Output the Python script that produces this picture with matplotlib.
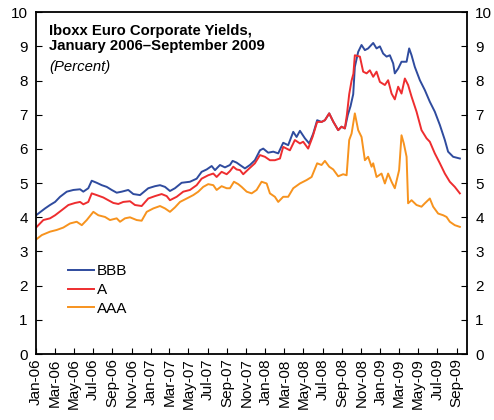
import numpy as np
import pandas as pd
import matplotlib
matplotlib.use('Agg')
import matplotlib.pyplot as plt
import matplotlib.dates as mdates

plt.rcParams['font.family'] = ['Liberation Sans', 'DejaVu Sans']

# months since Jan 2006 and yields (percent)
bbb_m = [0.0, 0.94, 1.46, 1.99, 2.51, 3.21, 3.9, 4.6, 4.94, 5.46, 5.82, 6.34, 6.87, 7.39,
         7.91, 8.43, 8.96, 9.64, 10.17, 10.87, 11.73, 12.43, 12.96, 13.48, 14.0, 14.52,
         15.22, 16.09, 16.79, 17.31, 17.84, 18.36, 18.71, 19.23, 19.75, 20.27, 20.55,
         20.97, 21.32, 21.84, 22.36, 22.88, 23.41, 23.75, 24.27, 24.8, 25.32, 25.84,
         26.36, 26.89, 27.24, 27.59, 28.11, 28.56, 28.98, 29.39, 29.85, 30.2, 30.65,
         31.07, 31.59, 31.94, 32.29, 32.6, 32.88, 33.16, 33.33, 33.68, 34.03, 34.38,
         34.72, 35.25, 35.6, 35.95, 36.29, 36.65, 36.99, 37.34, 37.51, 37.86, 38.21,
         38.74, 39.01, 39.26, 39.6, 40.13, 40.65, 41.17, 41.69, 42.22, 42.74, 43.08,
         43.61, 44.31]
bbb_v = [4.06, 4.26, 4.36, 4.45, 4.6, 4.75, 4.8, 4.82, 4.75, 4.85, 5.07, 5.01, 4.94, 4.89,
         4.8, 4.72, 4.75, 4.8, 4.68, 4.65, 4.85, 4.91, 4.94, 4.89, 4.77, 4.85,
         5.01, 5.04, 5.13, 5.33, 5.4, 5.5, 5.38, 5.53, 5.46, 5.53, 5.65,
         5.6, 5.53, 5.43, 5.53, 5.67, 5.96, 6.01, 5.89, 5.92, 5.87, 6.18,
         6.11, 6.5, 6.35, 6.53, 6.31, 6.16, 6.45, 6.84, 6.79, 6.84, 7.04,
         6.8, 6.55, 6.65, 6.6, 7.0, 7.25, 7.6, 8.4, 8.84, 9.04, 8.89,
         8.94, 9.1, 8.94, 9.0, 8.79, 8.7, 8.74, 8.5, 8.21, 8.35, 8.55,
         8.55, 8.94, 8.74, 8.4, 8.01, 7.72, 7.38, 7.09, 6.7, 6.26, 5.92,
         5.77, 5.72]

a_m = [0.0, 0.76, 1.46, 1.99, 2.69, 3.38, 4.08, 4.6, 4.94, 5.46, 5.82, 6.34, 7.03, 7.55,
       8.08, 8.6, 9.12, 9.82, 10.34, 11.04, 11.73, 12.43, 13.13, 13.66, 14.0, 14.7,
       15.39, 16.09, 16.79, 17.31, 18.0, 18.53, 18.88, 19.4, 19.93, 20.27, 20.62,
       20.97, 21.32, 21.66, 22.18, 22.88, 23.41, 23.93, 24.45, 24.97, 25.5, 25.84,
       26.54, 27.06, 27.59, 27.93, 28.45, 28.91, 29.39, 29.85, 30.2, 30.65, 31.07,
       31.59, 31.94, 32.29, 32.5, 32.74, 32.99, 33.18, 33.33, 33.86, 34.2, 34.56,
       34.9, 35.25, 35.6, 35.95, 36.47, 36.81, 37.17, 37.51, 37.86, 38.21, 38.56,
       38.9, 39.26, 39.78, 40.3, 40.83, 41.17, 41.69, 42.22, 42.74, 43.26, 43.78,
       44.31]
a_v = [3.7, 3.92, 3.97, 4.06, 4.21, 4.36, 4.42, 4.45, 4.38, 4.45, 4.7, 4.65, 4.58, 4.5,
       4.42, 4.39, 4.45, 4.47, 4.36, 4.33, 4.55, 4.62, 4.68, 4.62, 4.5, 4.6,
       4.75, 4.8, 4.94, 5.13, 5.23, 5.28, 5.18, 5.33, 5.26, 5.35, 5.48,
       5.4, 5.38, 5.26, 5.4, 5.58, 5.82, 5.77, 5.67, 5.67, 5.72, 6.06,
       5.96, 6.26, 6.16, 6.21, 6.01, 6.35, 6.79, 6.79, 6.84, 7.04, 6.8,
       6.55, 6.65, 6.6, 7.0, 7.6, 8.0, 8.2, 8.74, 8.7, 8.26, 8.21,
       8.3, 8.11, 8.26, 7.96, 7.87, 8.01, 7.62, 7.45, 7.82, 7.62, 8.06,
       7.87, 7.53, 7.09, 6.55, 6.31, 6.21, 5.87, 5.58, 5.28, 5.04, 4.89,
       4.7]

aaa_m = [0.0, 0.6, 1.46, 2.16, 2.85, 3.55, 4.25, 4.78, 5.3, 5.99, 6.51, 7.21, 7.73, 8.43,
         8.78, 9.3, 9.82, 10.52, 11.04, 11.57, 12.26, 12.96, 13.48, 14.0, 14.52, 15.05,
         15.75, 16.44, 16.96, 17.48, 18.0, 18.53, 18.88, 19.4, 19.93, 20.27, 20.69,
         21.14, 21.49, 22.02, 22.54, 23.06, 23.58, 24.11, 24.45, 24.97, 25.32, 25.84,
         26.36, 26.89, 27.59, 28.29, 28.81, 29.39, 29.85, 30.2, 30.65, 31.07, 31.59,
         32.11, 32.47, 32.74, 32.99, 33.33, 33.68, 34.03, 34.38, 34.72, 35.08, 35.25,
         35.6, 36.12, 36.47, 36.81, 37.17, 37.51, 37.96, 38.21, 38.45, 38.74, 38.9,
         39.26, 39.78, 40.3, 40.65, 41.17, 41.52, 42.04, 42.57, 42.92, 43.26, 43.78,
         44.31]
aaa_v = [3.35, 3.48, 3.58, 3.63, 3.7, 3.82, 3.87, 3.77, 3.92, 4.16, 4.06, 4.01, 3.92, 3.97,
         3.87, 3.97, 4.0, 3.92, 3.9, 4.16, 4.26, 4.33, 4.26, 4.16, 4.29, 4.45,
         4.55, 4.65, 4.75, 4.89, 4.97, 4.94, 4.8, 4.91, 4.85, 4.85, 5.04,
         4.97, 4.89, 4.75, 4.7, 4.8, 5.04, 4.99, 4.7, 4.6, 4.45, 4.6,
         4.6, 4.85, 4.99, 5.09, 5.18, 5.58, 5.53, 5.65, 5.48, 5.4, 5.2,
         5.26, 5.23, 6.26, 6.45, 7.04, 6.55, 6.35, 5.67, 5.77, 5.48, 5.58,
         5.18, 5.28, 4.99, 5.28, 5.04, 4.85, 5.38, 6.4, 6.16, 5.77, 4.41,
         4.5, 4.36, 4.31, 4.41, 4.55, 4.31, 4.11, 4.06, 4.01, 3.87, 3.77,
         3.72]

start = pd.Timestamp('2006-01-01')


def to_dates(months):
    return start + pd.to_timedelta(np.array(months) * 30.44, unit='D')


fig = plt.figure(figsize=(4.94, 4.2), dpi=100)
ax = fig.add_axes([0.073, 0.157, 0.872, 0.814])

ax.plot(to_dates(bbb_m), bbb_v, color='#2F4B9E', lw=1.4, label='BBB')
ax.plot(to_dates(a_m), a_v, color='#EE2D2F', lw=1.4, label='A')
ax.plot(to_dates(aaa_m), aaa_v, color='#F7931E', lw=1.4, label='AAA')

ax.set_ylim(0, 10)
ax.set_yticks(range(0, 11))
ax.set_xlim(start, pd.Timestamp('2009-10-03'))
ax.xaxis.set_major_locator(mdates.MonthLocator(bymonth=range(1, 13, 2)))
ax.xaxis.set_major_formatter(mdates.DateFormatter('%b-%y'))
ax.tick_params(axis='x', rotation=90, direction='in', length=4, labelsize=11, pad=3)
ax.tick_params(axis='y', direction='in', length=4, labelsize=11, right=True,
               labelright=True, pad=6)
for s in ax.spines.values():
    s.set_linewidth(1.3)

ax.text(0.03, 0.965, 'Iboxx Euro Corporate Yields,\nJanuary 2006\u2013September 2009',
        transform=ax.transAxes, fontsize=10.7, fontweight='bold', va='top', linespacing=1.1)
ax.text(0.03, 0.86, '(Percent)', transform=ax.transAxes, fontsize=10.7,
        fontstyle='italic', va='top')

ax.legend(loc='upper left', bbox_to_anchor=(0.06, 0.28), frameon=False, fontsize=11,
          handlelength=1.7, handletextpad=0.2, labelspacing=0.3, borderaxespad=0)

fig.savefig('out.png', dpi=100)
